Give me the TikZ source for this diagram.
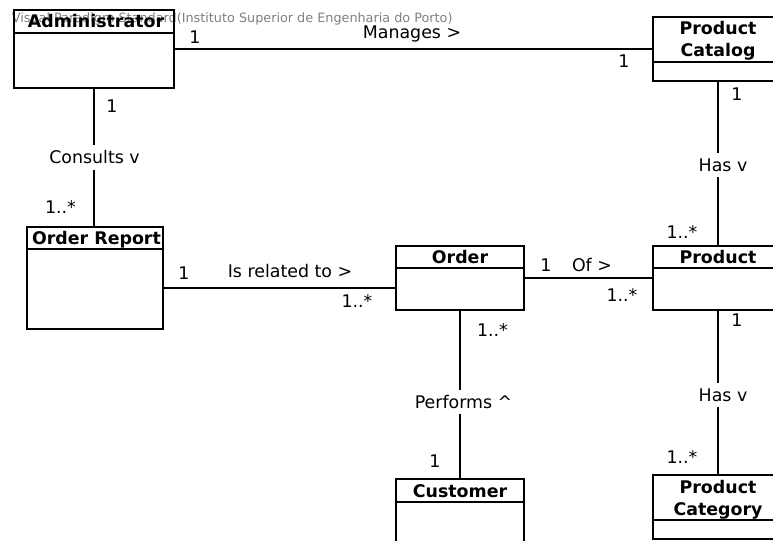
\documentclass[tikz,border=0pt]{standalone}
\usepackage{fontspec}
\setmainfont{DejaVu Sans}
\begin{document}
\begin{tikzpicture}[x=1bp,y=-1bp,
  line width=1.7bp,
  cls/.style={draw, rectangle, inner sep=0pt, outer sep=0pt, anchor=north west},
  ctitle/.style={anchor=base, inner sep=0pt, font=\fontsize{17.4bp}{21bp}\selectfont\bfseries},
  mult/.style={anchor=base, inner sep=0pt, font=\fontsize{17.4bp}{21bp}\selectfont},
  lbl/.style={fill=white, inner xsep=2bp, inner ysep=5.5bp, font=\fontsize{17.4bp}{21bp}\selectfont},
  bannertext/.style={anchor=base west, inner sep=0pt, text=black!50, font=\fontsize{12.8bp}{15bp}\selectfont}
]
\useasboundingbox (0,0) rectangle (773,541);
\clip (0,0) rectangle (773,541);

% edition banner
\node[bannertext] (banner) at (11,22.5) {Visual Paradigm Standard(Instituto Superior de Engenharia do Porto)};

% classes
\node[cls, minimum width=160bp, minimum height=78bp]  (adm) at (14,10)  {};
\node[cls, minimum width=130bp, minimum height=64bp]  (cat) at (653,17) {};
\node[cls, minimum width=136bp, minimum height=102bp] (rep) at (27,227) {};
\node[cls, minimum width=128bp, minimum height=64bp]  (ord) at (396,246) {};
\node[cls, minimum width=130bp, minimum height=64bp]  (prd) at (653,246) {};
\node[cls, minimum width=128bp, minimum height=66bp]  (cus) at (396,479) {};
\node[cls, minimum width=130bp, minimum height=64bp]  (pcg) at (653,475) {};

% compartment separators
\draw (adm.west |- 0,33)  -- (adm.east |- 0,33);
\draw (cat.west |- 0,62)  -- (cat.east |- 0,62);
\draw (rep.west |- 0,249) -- (rep.east |- 0,249);
\draw (ord.west |- 0,268) -- (ord.east |- 0,268);
\draw (prd.west |- 0,268) -- (prd.east |- 0,268);
\draw (cus.west |- 0,502) -- (cus.east |- 0,502);
\draw (pcg.west |- 0,520) -- (pcg.east |- 0,520);

% class names
\node[ctitle] (adm-t)  at (96,28)   {Administrator};
\node[ctitle] (cat-t1) at (718,35)  {Product};
\node[ctitle] (cat-t2) at (718,56.5){Catalog};
\node[ctitle] (rep-t)  at (96.5,245){Order Report};
\node[ctitle] (ord-t)  at (460,264) {Order};
\node[ctitle] (prd-t)  at (718,264) {Product};
\node[ctitle] (cus-t)  at (460,497) {Customer};
\node[ctitle] (pcg-t1) at (718,493) {Product};
\node[ctitle] (pcg-t2) at (718,515) {Category};

% associations
\draw (adm.east) -- (cat.west);
\node[mult] at (195,43.5) {1};
\node[mult] at (412,39)   {Manages >};
\node[mult] at (624,68)   {1};

\draw (adm.south) -- node[lbl, pos=0.5, xshift=0.5bp] (consults) {Consults v} (adm.south |- rep.north);
\node[mult] at (112,113) {1};
\node[mult] at (60.5,214) {1..*};

\draw (rep.east |- 0,288) -- (ord.west |- 0,288);
\node[mult] at (184,280) {1};
\node[mult] at (290,278) {Is related to >};
\node[mult] at (357,308) {1..*};

\draw (ord.east) -- (prd.west);
\node[mult] at (546,272) {1};
\node[mult] at (592,272) {Of >};
\node[mult] at (622,302) {1..*};

\draw (cat.south) -- node[lbl, pos=0.51, xshift=5bp] (has1) {Has v} (prd.north);
\node[mult] at (737,101) {1};
\node[mult] at (682,239) {1..*};

\draw (ord.south) -- node[lbl, pos=0.544, xshift=3.5bp] (performs) {Performs \textasciicircum} (ord.south |- cus.north);
\node[mult] at (492.5,336) {1..*};
\node[mult] at (435,467.5) {1};

\draw (prd.south) -- node[lbl, pos=0.515, xshift=5bp] (has2) {Has v} (pcg.north);
\node[mult] at (737,326) {1};
\node[mult] at (682,463) {1..*};
\end{tikzpicture}
\end{document}
